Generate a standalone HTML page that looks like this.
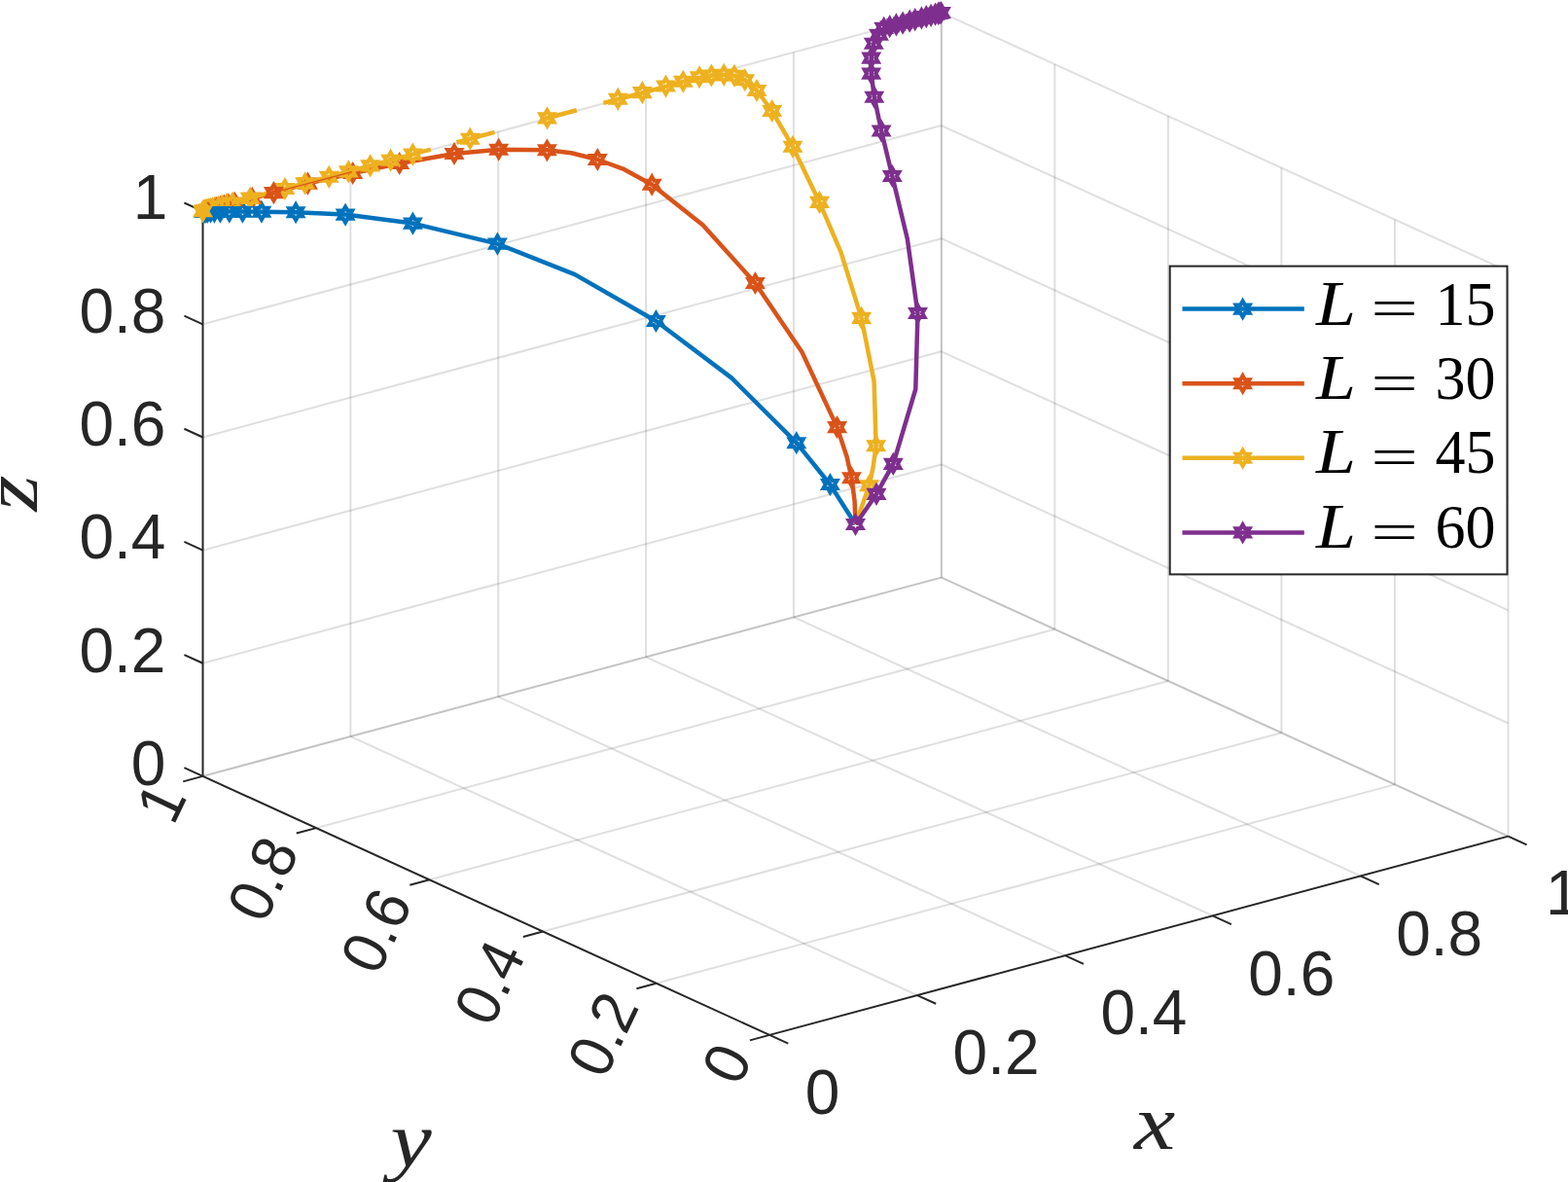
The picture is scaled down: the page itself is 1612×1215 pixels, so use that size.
<!DOCTYPE html>
<html lang="en"><head><meta charset="utf-8"><title>3D trajectories for L = 15, 30, 45, 60</title>
<style>
html,body{margin:0;padding:0;background:#fff}
svg{display:block}
.g{stroke:#262626;stroke-opacity:.15;stroke-width:2;fill:none}
.a{stroke:#262626;stroke-width:2;fill:none;stroke-linecap:butt}
.t{font-family:"Liberation Sans",Arial,Helvetica,sans-serif;font-size:64px;fill:#262626}
.m{font-family:"Liberation Serif","Times New Roman",serif;font-style:italic;font-size:80.6px;fill:#262626}
.l{font-family:"Liberation Serif","Times New Roman",serif;font-size:64px;fill:#000}
.li{font-style:italic}
.c{fill:none;stroke-width:4.5;stroke-linejoin:round;stroke-linecap:butt}
.k{stroke-width:4.1;stroke-linejoin:miter;stroke-miterlimit:4}
</style></head>
<body>
<svg width="1612" height="1215" viewBox="0 0 1612 1215">
<rect width="1612" height="1215" fill="#fff"/>
<g id="grid">
<line class="g" x1="208.5" y1="797.9" x2="967.8" y2="593.6"/>
<line class="g" x1="1550.5" y1="859.6" x2="1550.5" y2="278.9"/>
<line class="g" x1="1550.5" y1="859.6" x2="967.8" y2="593.6"/>
<line class="g" x1="943.06" y1="1023.04" x2="360.36" y2="757.04"/>
<line class="g" x1="674.66" y1="1010.7" x2="1433.96" y2="806.4"/>
<line class="g" x1="360.36" y1="757.04" x2="360.36" y2="176.34"/>
<line class="g" x1="208.5" y1="681.76" x2="967.8" y2="477.46"/>
<line class="g" x1="1433.96" y1="806.4" x2="1433.96" y2="225.7"/>
<line class="g" x1="1550.5" y1="743.46" x2="967.8" y2="477.46"/>
<line class="g" x1="1094.92" y1="982.18" x2="512.22" y2="716.18"/>
<line class="g" x1="558.12" y1="957.5" x2="1317.42" y2="753.2"/>
<line class="g" x1="512.22" y1="716.18" x2="512.22" y2="135.48"/>
<line class="g" x1="208.5" y1="565.62" x2="967.8" y2="361.32"/>
<line class="g" x1="1317.42" y1="753.2" x2="1317.42" y2="172.5"/>
<line class="g" x1="1550.5" y1="627.32" x2="967.8" y2="361.32"/>
<line class="g" x1="1246.78" y1="941.32" x2="664.08" y2="675.32"/>
<line class="g" x1="441.58" y1="904.3" x2="1200.88" y2="700"/>
<line class="g" x1="664.08" y1="675.32" x2="664.08" y2="94.62"/>
<line class="g" x1="208.5" y1="449.48" x2="967.8" y2="245.18"/>
<line class="g" x1="1200.88" y1="700" x2="1200.88" y2="119.3"/>
<line class="g" x1="1550.5" y1="511.18" x2="967.8" y2="245.18"/>
<line class="g" x1="1398.64" y1="900.46" x2="815.94" y2="634.46"/>
<line class="g" x1="325.04" y1="851.1" x2="1084.34" y2="646.8"/>
<line class="g" x1="815.94" y1="634.46" x2="815.94" y2="53.76"/>
<line class="g" x1="208.5" y1="333.34" x2="967.8" y2="129.04"/>
<line class="g" x1="1084.34" y1="646.8" x2="1084.34" y2="66.1"/>
<line class="g" x1="1550.5" y1="395.04" x2="967.8" y2="129.04"/>
<line class="g" x1="1550.5" y1="859.6" x2="967.8" y2="593.6"/>
<line class="g" x1="208.5" y1="797.9" x2="967.8" y2="593.6"/>
<line class="g" x1="967.8" y1="593.6" x2="967.8" y2="12.9"/>
<line class="g" x1="208.5" y1="217.2" x2="967.8" y2="12.9"/>
<line class="g" x1="967.8" y1="593.6" x2="967.8" y2="12.9"/>
<line class="g" x1="1550.5" y1="278.9" x2="967.8" y2="12.9"/>
</g>
<g id="axes">
<line class="a" x1="208.5" y1="797.9" x2="208.5" y2="217.2"/>
<line class="a" x1="208.5" y1="797.9" x2="791.2" y2="1063.9"/>
<line class="a" x1="791.2" y1="1063.9" x2="1550.5" y2="859.6"/>
<line class="a" x1="791.2" y1="1063.9" x2="810.3" y2="1072.62"/>
<line class="a" x1="791.2" y1="1063.9" x2="770.92" y2="1069.36"/>
<line class="a" x1="208.5" y1="797.9" x2="189.4" y2="789.18"/>
<line class="a" x1="943.06" y1="1023.04" x2="962.16" y2="1031.76"/>
<line class="a" x1="674.66" y1="1010.7" x2="654.38" y2="1016.16"/>
<line class="a" x1="208.5" y1="681.76" x2="189.4" y2="673.04"/>
<line class="a" x1="1094.92" y1="982.18" x2="1114.02" y2="990.9"/>
<line class="a" x1="558.12" y1="957.5" x2="537.84" y2="962.96"/>
<line class="a" x1="208.5" y1="565.62" x2="189.4" y2="556.9"/>
<line class="a" x1="1246.78" y1="941.32" x2="1265.88" y2="950.04"/>
<line class="a" x1="441.58" y1="904.3" x2="421.3" y2="909.76"/>
<line class="a" x1="208.5" y1="449.48" x2="189.4" y2="440.76"/>
<line class="a" x1="1398.64" y1="900.46" x2="1417.74" y2="909.18"/>
<line class="a" x1="325.04" y1="851.1" x2="304.76" y2="856.56"/>
<line class="a" x1="208.5" y1="333.34" x2="189.4" y2="324.62"/>
<line class="a" x1="1550.5" y1="859.6" x2="1569.6" y2="868.32"/>
<line class="a" x1="208.5" y1="797.9" x2="188.22" y2="803.36"/>
<line class="a" x1="208.5" y1="217.2" x2="189.4" y2="208.48"/>
</g>
<g id="ticklabels">
<text class="t" text-anchor="end" x="170.4" y="806.7">0</text>
<text class="t" text-anchor="end" x="170.4" y="690.56">0.2</text>
<text class="t" text-anchor="end" x="170.4" y="574.42">0.4</text>
<text class="t" text-anchor="end" x="170.4" y="458.28">0.6</text>
<text class="t" text-anchor="end" x="170.4" y="342.14">0.8</text>
<text class="t" text-anchor="end" x="172.25" y="225.1">1</text>
<text class="t" x="827.7" y="1145.2">0</text>
<text class="t" x="979.56" y="1104.34">0.2</text>
<text class="t" x="1131.42" y="1063.48">0.4</text>
<text class="t" x="1283.28" y="1022.62">0.6</text>
<text class="t" x="1435.14" y="981.76">0.8</text>
<text class="t" x="1589" y="940.4">1</text>
<text class="t" text-anchor="end" transform="translate(754.5 1078.1) rotate(-64.5) scale(0.95 1)" x="0" y="22">0</text>
<text class="t" text-anchor="end" transform="translate(637.96 1024.9) rotate(-64.5) scale(0.95 1)" x="0" y="22">0.2</text>
<text class="t" text-anchor="end" transform="translate(521.42 971.7) rotate(-64.5) scale(0.95 1)" x="0" y="22">0.4</text>
<text class="t" text-anchor="end" transform="translate(404.88 918.5) rotate(-64.5) scale(0.95 1)" x="0" y="22">0.6</text>
<text class="t" text-anchor="end" transform="translate(288.34 865.3) rotate(-64.5) scale(0.95 1)" x="0" y="22">0.8</text>
<text class="t" text-anchor="end" transform="translate(172.9 809.8) rotate(-64.5) scale(0.95 1)" x="0" y="22">1</text>
</g>
<g id="axislabels">
<text class="m" text-anchor="middle" transform="translate(1187 1181.3) scale(1.18 1)">x</text>
<text class="m" text-anchor="middle" transform="translate(422.5 1198.5) scale(1.18 1)">y</text>
<text class="m" text-anchor="middle" transform="translate(38 507) rotate(-90) scale(1.18 1)">z</text>
</g>
<defs><path id="h" d="M0 -8 L2.31 -4 L6.93 -4 L4.62 0 L6.93 4 L2.31 4 L0 8 L-2.31 4 L-6.93 4 L-4.62 0 L-6.93 -4 L-2.31 -4 Z"/><path id="s" d="M0 -8 L2.31 -4 L6.93 -4 L4.62 0 L6.93 4 L2.31 4 L0 8 L-2.31 4 L-6.93 4 L-4.62 0 L-6.93 -4 L-2.31 -4 Z"/><clipPath id="cl"><rect x="0" y="0" width="400" height="212"/></clipPath></defs>
<g id="curves">
<polyline class="c" stroke="#0072BD" points="208.5,217.3 249.4,217.6 268.9,217.7 304.1,218.2 355.1,220.6 424.4,229.6 511.4,250.6 591,282.1 674.4,330 752,388.4 818.8,455.2 853.4,498 879.5,539"/>
<g class="k" stroke="#0072BD" fill="none"><use href="#s" x="209.5" y="217.6"/><use href="#s" x="210" y="217.6"/><use href="#s" x="210.8" y="217.6"/><use href="#s" x="211.9" y="217.6"/><use href="#s" x="213.5" y="217.6"/><use href="#s" x="216.5" y="217.6"/><use href="#s" x="220.4" y="217.6"/></g>
<g class="k" stroke="#0072BD" fill="none"><use href="#h" x="226.4" y="217.6"/><use href="#h" x="235.8" y="217.6"/><use href="#h" x="249.4" y="217.6"/><use href="#h" x="268.9" y="217.7"/><use href="#h" x="304.1" y="218.2"/><use href="#h" x="355.1" y="220.6"/><use href="#h" x="424.4" y="229.6"/><use href="#h" x="511.4" y="250.6"/><use href="#h" x="674.4" y="330"/><use href="#h" x="818.8" y="455.2"/><use href="#h" x="853.4" y="498"/></g>
<polyline class="c" stroke="#D95319" points="238,209.76 281.4,198.1 316.4,188.6 362.7,178 410.7,168 467,158 512.7,153.7 562.4,154.3 587.3,157.2 614.3,164 641.9,174.2 670.2,189.7 722.5,231.3 776.4,291 824.4,361.7 860.6,439.1 870.6,469.5 875.5,491.2 878.6,515 879.5,539"/>
<g class="k" stroke="#EDB120" clip-path="url(#cl)" fill="none"><use href="#s" x="209.6" y="216.7"/></g>
<g class="k" stroke="#D95319" clip-path="url(#cl)" fill="none"><use href="#s" x="211.3" y="216.85"/></g>
<g class="k" stroke="#D95319" clip-path="url(#cl)" fill="none"><use href="#s" x="212.7" y="216.47"/></g>
<g class="k" stroke="#EDB120" clip-path="url(#cl)" fill="none"><use href="#s" x="210.9" y="216.35"/></g>
<g class="k" stroke="#EDB120" clip-path="url(#cl)" fill="none"><use href="#s" x="212.4" y="215.95"/></g>
<g class="k" stroke="#D95319" clip-path="url(#cl)" fill="none"><use href="#s" x="214.3" y="216.04"/></g>
<g class="k" stroke="#D95319" clip-path="url(#cl)" fill="none"><use href="#s" x="216.2" y="215.53"/></g>
<g class="k" stroke="#EDB120" clip-path="url(#cl)" fill="none"><use href="#s" x="214.2" y="215.47"/></g>
<g class="k" stroke="#EDB120" clip-path="url(#cl)" fill="none"><use href="#s" x="216.3" y="214.9"/></g>
<g class="k" stroke="#D95319" clip-path="url(#cl)" fill="none"><use href="#s" x="218.4" y="214.93"/></g>
<g class="k" stroke="#D95319" clip-path="url(#cl)" fill="none"><use href="#s" x="220.6" y="214.34"/></g>
<g class="k" stroke="#EDB120" clip-path="url(#cl)" fill="none"><use href="#s" x="218.6" y="214.28"/></g>
<g class="k" stroke="#EDB120" clip-path="url(#cl)" fill="none"><use href="#s" x="221.2" y="213.58"/></g>
<g class="k" stroke="#D95319" clip-path="url(#cl)" fill="none"><use href="#s" x="222.8" y="213.75"/></g>
<g class="k" stroke="#D95319" clip-path="url(#cl)" fill="none"><use href="#s" x="226.6" y="212.73"/></g>
<g class="k" stroke="#EDB120" clip-path="url(#cl)" fill="none"><use href="#s" x="224.6" y="212.67"/></g>
<g class="k" stroke="#D95319" clip-path="url(#cl)" fill="none"><use href="#s" x="230.4" y="211.7"/></g>
<g class="k" stroke="#EDB120" clip-path="url(#cl)" fill="none"><use href="#s" x="228.2" y="211.7"/></g>
<g class="k" stroke="#D95319" clip-path="url(#cl)" fill="none"><use href="#s" x="235" y="210.47"/></g>
<g class="k" stroke="#EDB120" clip-path="url(#cl)" fill="none"><use href="#s" x="233.1" y="210.38"/></g>
<g class="k" stroke="#D95319" clip-path="url(#cl)" fill="none"><use href="#s" x="241.3" y="208.77"/></g>
<g class="k" stroke="#EDB120" clip-path="url(#cl)" fill="none"><use href="#s" x="239.1" y="208.76"/></g>
<g class="k" stroke="#D95319" clip-path="url(#cl)" fill="none"><use href="#s" x="259.3" y="203.92"/></g>
<g class="k" stroke="#EDB120" clip-path="url(#cl)" fill="none"><use href="#s" x="257.2" y="203.89"/></g>
<g class="k" stroke="#D95319" fill="none"><use href="#h" x="316.4" y="188.6"/><use href="#h" x="362.7" y="178"/><use href="#h" x="410.7" y="168"/><use href="#h" x="467" y="158"/><use href="#h" x="512.7" y="153.7"/><use href="#h" x="562.4" y="154.3"/><use href="#h" x="614.3" y="164"/><use href="#h" x="670.2" y="189.7"/><use href="#h" x="776.4" y="291"/><use href="#h" x="860.6" y="439.1"/><use href="#h" x="875.5" y="491.2"/></g>
<polyline class="c" stroke="#EDB120" points="238,208.76 442.8,153.63"/>
<polyline class="c" stroke="#EDB120" points="469.4,146.47 508.5,135.94"/>
<polyline class="c" stroke="#EDB120" points="556.5,123.02 592.9,113.22"/>
<polyline class="c" stroke="#EDB120" points="620.4,105.82 635.3,102 660.3,95.5 684.5,88.8 702.3,84 719,80 731.4,77.5 744.2,76.8 755,77.8 765.8,82.2 778,93 793.7,114 815,150.8 842.5,207.9 864.5,259.2 885.6,326.9 898.6,392 900.6,458.3 897.5,481 893.5,499.3 879.5,539"/>
<g class="k" stroke="#EDB120" fill="none"><use href="#h" x="292.9" y="193.98"/><use href="#h" x="313.6" y="188.41"/><use href="#h" x="338.2" y="181.78"/><use href="#h" x="358.3" y="176.37"/><use href="#h" x="380.6" y="170.37"/><use href="#h" x="401.6" y="164.72"/><use href="#h" x="424.4" y="158.58"/><use href="#h" x="483.3" y="142.72"/><use href="#h" x="562.5" y="121.4"/><use href="#h" x="635.3" y="101.81"/><use href="#h" x="660.3" y="95.08"/><use href="#h" x="684.5" y="88.56"/><use href="#h" x="702.3" y="83.77"/><use href="#h" x="719" y="79.27"/><use href="#h" x="731.4" y="77.5"/><use href="#h" x="744.2" y="76.8"/><use href="#h" x="755" y="77.8"/><use href="#h" x="765.8" y="82.2"/><use href="#h" x="778" y="93"/><use href="#h" x="793.7" y="114"/><use href="#h" x="815" y="150.8"/><use href="#h" x="842.5" y="207.9"/><use href="#h" x="885.6" y="326.9"/><use href="#h" x="900.6" y="458.3"/><use href="#h" x="893.5" y="499.3"/></g>
<polyline class="c" stroke="#D95319" points="275.5,199.7 281.4,198.1 287.5,196.5"/>
<g class="k" stroke="#D95319" fill="none"><use href="#h" x="281.4" y="198.1"/></g>
<polyline class="c" stroke="#D95319" style="stroke-width:1.4" points="290,195.66 362,176.58"/>
<g class="k" stroke="#EDB120" fill="#EDB120"><use href="#s" x="208.5" y="217.3"/></g>
<polyline class="c" stroke="#7E2F8E" points="879.5,539 901,507.9 918.3,476.9 941.3,400 943.5,322 932.8,245.5 917.3,181 906.1,134.5 898.8,99.7 895.7,75.6 895.7,59.6 898.3,44.7 903.5,35.7 908.7,28.83 967.5,13"/>
<g class="k" stroke="#7E2F8E" fill="none"><use href="#h" x="879.5" y="539"/><use href="#h" x="901" y="507.9"/><use href="#h" x="918.3" y="476.9"/><use href="#h" x="943.5" y="322"/><use href="#h" x="917.3" y="181"/><use href="#h" x="906.1" y="134.5"/><use href="#h" x="898.8" y="99.7"/><use href="#h" x="895.7" y="75.6"/><use href="#h" x="895.7" y="59.6"/><use href="#h" x="898.3" y="44.7"/><use href="#h" x="903.5" y="35.7"/><use href="#h" x="908.7" y="28.83"/><use href="#h" x="914.7" y="27.21"/><use href="#h" x="921.4" y="25.41"/><use href="#h" x="928.1" y="23.61"/><use href="#h" x="935.2" y="21.7"/><use href="#h" x="940.7" y="20.21"/><use href="#h" x="947.4" y="18.41"/><use href="#h" x="952.3" y="17.09"/><use href="#h" x="957.1" y="15.8"/><use href="#h" x="961.6" y="14.59"/><use href="#h" x="964.6" y="13.78"/><use href="#h" x="966" y="13.4"/><use href="#h" x="967.5" y="13"/></g>
</g>
<g id="legend">
<rect x="1202.7" y="273.6" width="346.8" height="316.8" fill="#fff" stroke="#262626" stroke-width="2"/>
<g class="k" fill="none" stroke="#0072BD"><line class="c" x1="1215.5" y1="317.6" x2="1340.8" y2="317.6"/><use href="#h" x="1277.6" y="317.6"/></g>
<text class="l li" transform="translate(1353 333.9) scale(1.15 1.03)">L</text>
<text class="l" transform="translate(1409.3 336.2) scale(1.35 0.89)">=</text>
<text class="l" transform="translate(1475.5 333.9) scale(0.97 1)">15</text>
<g class="k" fill="none" stroke="#D95319"><line class="c" x1="1215.5" y1="394.2" x2="1340.8" y2="394.2"/><use href="#h" x="1277.6" y="394.2"/></g>
<text class="l li" transform="translate(1353 410.1) scale(1.15 1.03)">L</text>
<text class="l" transform="translate(1409.3 412.8) scale(1.35 0.89)">=</text>
<text class="l" transform="translate(1475.5 410.1) scale(0.97 1)">30</text>
<g class="k" fill="none" stroke="#EDB120"><line class="c" x1="1215.5" y1="470.8" x2="1340.8" y2="470.8"/><use href="#h" x="1277.6" y="470.8"/></g>
<text class="l li" transform="translate(1353 486.3) scale(1.15 1.03)">L</text>
<text class="l" transform="translate(1409.3 489.4) scale(1.35 0.89)">=</text>
<text class="l" transform="translate(1475.5 486.3) scale(0.97 1)">45</text>
<g class="k" fill="none" stroke="#7E2F8E"><line class="c" x1="1215.5" y1="547.4" x2="1340.8" y2="547.4"/><use href="#h" x="1277.6" y="547.4"/></g>
<text class="l li" transform="translate(1353 562.5) scale(1.15 1.03)">L</text>
<text class="l" transform="translate(1409.3 566) scale(1.35 0.89)">=</text>
<text class="l" transform="translate(1475.5 562.5) scale(0.97 1)">60</text>
</g>
</svg>
</body></html>
